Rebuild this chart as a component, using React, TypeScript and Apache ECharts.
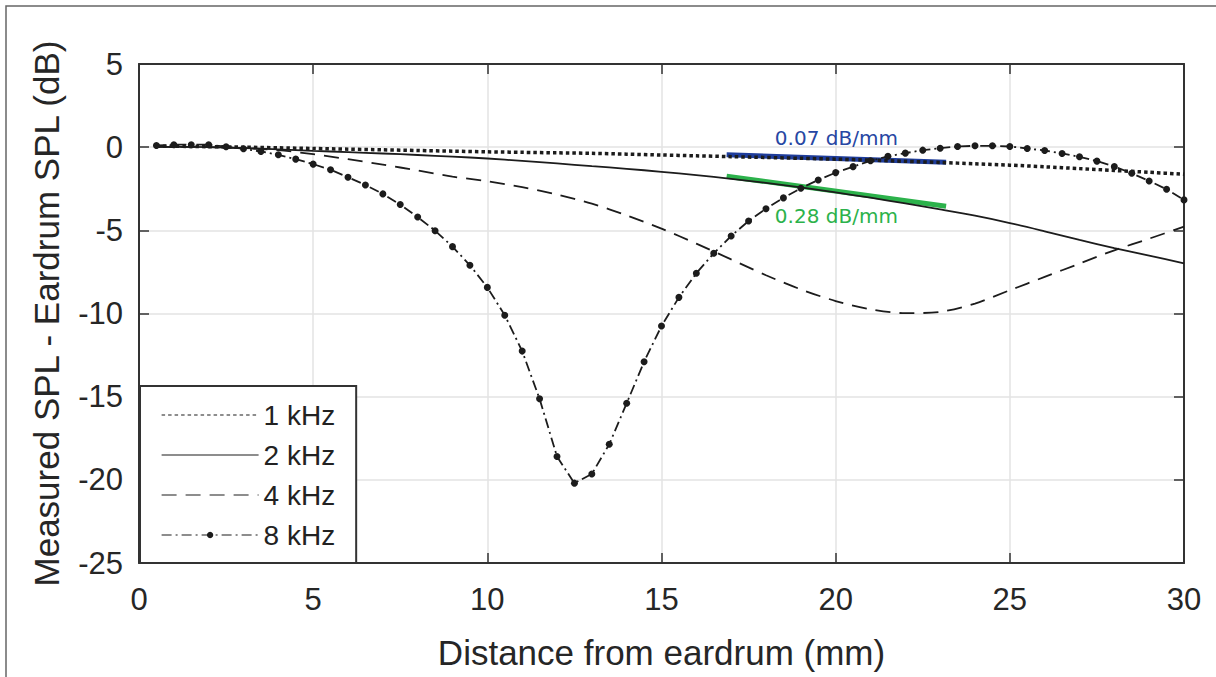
import React, { useEffect, useRef } from "react";
import * as echarts from "echarts";

// ---- data ----
const lineX = [0.5, 1, 2, 3, 4, 5, 6, 7, 8, 9, 10, 11, 12, 13, 14, 15, 16, 17, 18, 19, 20, 21, 22, 23, 24, 25, 26, 27, 28, 29, 30];
const khz1 = [0.05, 0.05, 0.03, 0.0, -0.04, -0.08, -0.12, -0.16, -0.2, -0.24, -0.28, -0.31, -0.34, -0.37, -0.42, -0.47, -0.52, -0.57, -0.62, -0.67, -0.72, -0.78, -0.85, -0.92, -1.0, -1.08, -1.18, -1.29, -1.4, -1.51, -1.63];
const khz2 = [0.02, 0.02, 0.0, -0.05, -0.13, -0.22, -0.3, -0.38, -0.47, -0.57, -0.68, -0.83, -0.98, -1.14, -1.3, -1.48, -1.68, -1.9, -2.15, -2.42, -2.72, -3.04, -3.38, -3.74, -4.12, -4.56, -5.06, -5.58, -6.07, -6.52, -6.98];
const khz4 = [0.02, 0.02, 0.0, -0.06, -0.18, -0.42, -0.72, -1.05, -1.4, -1.77, -2.05, -2.4, -2.85, -3.4, -4.1, -4.9, -5.8, -6.75, -7.7, -8.55, -9.25, -9.75, -9.98, -9.9, -9.4, -8.6, -7.8, -7.0, -6.2, -5.5, -4.78];
const dotX = [0.5, 1.0, 1.5, 2.0, 2.5, 3.0, 3.5, 4.0, 4.5, 5.0, 5.5, 6.0, 6.5, 7.0, 7.5, 8.0, 8.5, 9.0, 9.5, 10.0, 10.5, 11.0, 11.5, 12.0, 12.5, 13.0, 13.5, 14.0, 14.5, 15.0, 15.5, 16.0, 16.5, 17.0, 17.5, 18.0, 18.5, 19.0, 19.5, 20.0, 20.5, 21.0, 21.5, 22.0, 22.5, 23.0, 23.5, 24.0, 24.5, 25.0, 25.5, 26.0, 26.5, 27.0, 27.5, 28.0, 28.5, 29.0, 29.5, 30.0];
const khz8 = [0.1, 0.15, 0.15, 0.15, 0.03, -0.1, -0.26, -0.46, -0.72, -1.02, -1.36, -1.81, -2.27, -2.81, -3.45, -4.2, -5.02, -5.98, -7.1, -8.43, -10.1, -12.26, -15.13, -18.6, -20.2, -19.65, -17.86, -15.4, -12.9, -10.75, -9.03, -7.58, -6.38, -5.34, -4.44, -3.7, -3.05, -2.47, -1.97, -1.53, -1.17, -0.82, -0.55, -0.36, -0.18, -0.06, 0.04, 0.08, 0.08, 0.04, -0.08, -0.2, -0.38, -0.58, -0.84, -1.17, -1.57, -2.03, -2.53, -3.17];
const slopeBlueX = [16.87, 23.17];
const slopeBlueY = [-0.46, -0.9];
const slopeGreenX = [16.87, 23.17];
const slopeGreenY = [-1.75, -3.55];
const seriesNames = ["1 kHz", "2 kHz", "4 kHz", "8 kHz"];
const blueLabel = "0.07 dB/mm";
const greenLabel = "0.28 dB/mm";
const xTitle = "Distance from eardrum (mm)";
const yTitle = "Measured SPL - Eardrum SPL (dB)";

const zip = (xs: number[], ys: number[]) => xs.map((x, i) => [x, ys[i]]);

const INK = "#1c1c1c";
const AXIS = "#333333";
const FONT = "Liberation Sans, Arial, sans-serif";

export default function App() {
  const ref = useRef<HTMLDivElement>(null);
  useEffect(() => {
    if (!ref.current) return;
    const chart = echarts.init(ref.current, undefined, { renderer: "svg" });
    const tickAxisCommon = {
      axisLine: { show: true, onZero: false, lineStyle: { color: AXIS, width: 2 } },
      axisTick: { show: true, inside: true, length: 10, lineStyle: { color: AXIS, width: 1.5 } },
    };
    const frame = {
      id: "frame",
      type: "rect",
      shape: { x: 6, y: 6, width: 1400, height: 1000 },
      style: { fill: "none", stroke: "#666", lineWidth: 1.5 },
      silent: true,
      z: -10,
    };
    chart.setOption({
      animation: false,
      backgroundColor: "#ffffff",
      grid: { left: 139, right: 32, top: 64, bottom: 114, containLabel: false },
      legend: {
        data: [
          { name: seriesNames[0], itemStyle: { opacity: 0 } },
          { name: seriesNames[1], itemStyle: { opacity: 0 } },
          { name: seriesNames[2], itemStyle: { opacity: 0 } },
          { name: seriesNames[3] },
        ],
        orient: "vertical",
        left: 140,
        top: 386,
        padding: [15, 21, 14, 21],
        itemWidth: 97,
        itemHeight: 8,
        itemGap: 12,
        backgroundColor: "#ffffff",
        borderColor: AXIS,
        borderWidth: 2,
        borderRadius: 0,
        lineStyle: { width: 1.2 },
        textStyle: { fontFamily: FONT, fontSize: 28, color: "#222" },
        selectedMode: false,
        z: 10,
      },
      xAxis: [
        {
          type: "value",
          min: 0,
          max: 30,
          interval: 5,
          position: "bottom",
          name: xTitle,
          nameLocation: "middle",
          nameGap: 72,
          nameTextStyle: { fontFamily: FONT, fontSize: 35, color: "#262626" },
          ...tickAxisCommon,
          axisLabel: { fontFamily: FONT, fontSize: 31, color: "#262626", margin: 21 },
          splitLine: { show: true, lineStyle: { color: "#e3e3e3", width: 1.5 } },
        },
        {
          type: "value",
          min: 0,
          max: 30,
          interval: 5,
          position: "top",
          ...tickAxisCommon,
          axisLabel: { show: false },
          splitLine: { show: false },
        },
      ],
      yAxis: [
        {
          type: "value",
          min: -25,
          max: 5,
          interval: 5,
          position: "left",
          name: yTitle,
          nameLocation: "middle",
          nameGap: 75,
          nameTextStyle: { fontFamily: FONT, fontSize: 35, color: "#262626" },
          ...tickAxisCommon,
          axisLabel: { fontFamily: FONT, fontSize: 31, color: "#262626", margin: 16 },
          splitLine: { show: true, lineStyle: { color: "#e3e3e3", width: 1.5 } },
        },
        {
          type: "value",
          min: -25,
          max: 5,
          interval: 5,
          position: "right",
          ...tickAxisCommon,
          axisLabel: { show: false },
          splitLine: { show: false },
        },
      ],
      series: [
        {
          name: "slope-blue",
          type: "line",
          data: zip(slopeBlueX, slopeBlueY),
          symbol: "none",
          silent: true,
          lineStyle: { color: "#1f3d9b", width: 5 },
          z: 1,
        },
        {
          name: "slope-green",
          type: "line",
          data: zip(slopeGreenX, slopeGreenY),
          symbol: "none",
          silent: true,
          lineStyle: { color: "#2cb24b", width: 5 },
          z: 1,
        },
        {
          name: seriesNames[0],
          type: "line",
          data: zip(lineX, khz1),
          symbol: "none",
          smooth: 0.3,
          itemStyle: { color: INK },
          lineStyle: { color: INK, width: 3.5, type: [3.5, 3], cap: "butt" },
          z: 3,
        },
        {
          name: seriesNames[1],
          type: "line",
          data: zip(lineX, khz2),
          symbol: "none",
          smooth: 0.3,
          itemStyle: { color: INK },
          lineStyle: { color: INK, width: 1.8, type: "solid" },
          z: 3,
        },
        {
          name: seriesNames[2],
          type: "line",
          data: zip(lineX, khz4),
          symbol: "none",
          smooth: 0.3,
          itemStyle: { color: INK },
          lineStyle: { color: INK, width: 1.8, type: [15, 9] },
          z: 3,
        },
        {
          name: seriesNames[3],
          type: "line",
          data: zip(dotX, khz8),
          symbol: "circle",
          symbolSize: 7,
          showSymbol: true,
          showAllSymbol: true,
          itemStyle: { color: INK },
          lineStyle: { color: INK, width: 1.8, type: [10, 4, 2, 4] },
          z: 4,
        },
      ],
      graphic: [frame],
    });

    const bMid = chart.convertToPixel({ gridIndex: 0 }, [
      (slopeBlueX[0] + slopeBlueX[1]) / 2,
      (slopeBlueY[0] + slopeBlueY[1]) / 2,
    ]) as number[];
    const gMid = chart.convertToPixel({ gridIndex: 0 }, [
      (slopeGreenX[0] + slopeGreenX[1]) / 2,
      (slopeGreenY[0] + slopeGreenY[1]) / 2,
    ]) as number[];
    chart.setOption({
      graphic: [
        frame,
        {
          id: "blueText",
          type: "text",
          x: bMid[0],
          y: bMid[1] - 20,
          style: {
            text: blueLabel,
            fill: "#2747a3",
            font: "20px 'DejaVu Sans', sans-serif",
            align: "center",
            verticalAlign: "middle",
          },
          z: 20,
        },
        {
          id: "greenText",
          type: "text",
          x: gMid[0],
          y: gMid[1] + 25,
          style: {
            text: greenLabel,
            fill: "#2cb24b",
            font: "20px 'DejaVu Sans', sans-serif",
            align: "center",
            verticalAlign: "middle",
          },
          z: 20,
        },
      ],
    });

    return () => chart.dispose();
  }, []);
  return (
    <div
      ref={ref}
      style={{ position: "absolute", left: 0, top: 0, width: 1216, height: 677, background: "#fff" }}
    />
  );
}
